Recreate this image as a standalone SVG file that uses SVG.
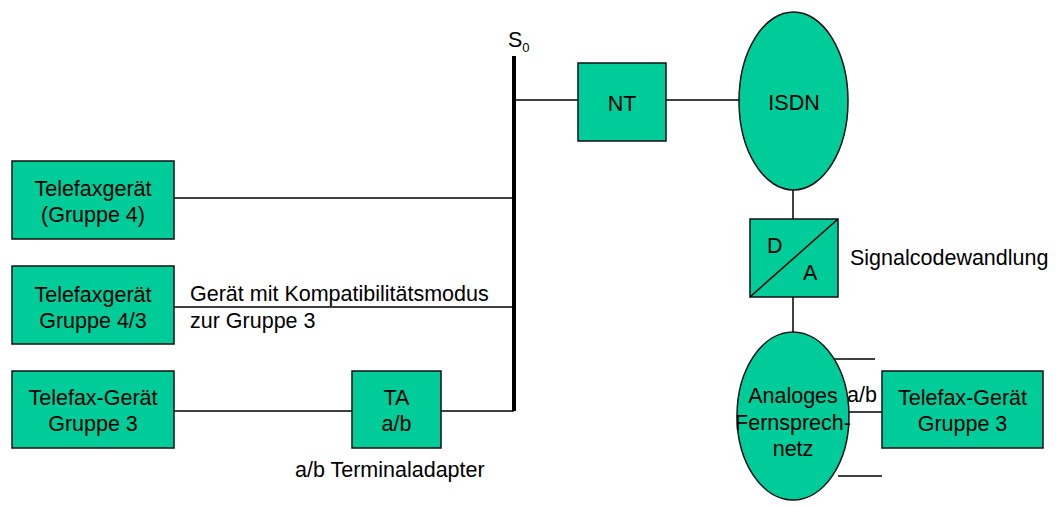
<svg xmlns="http://www.w3.org/2000/svg" width="1056" height="506" viewBox="0 0 1056 506">
<style>
.n{fill:#00CC99;stroke:#111;stroke-width:1.5}
.t{font-family:"Liberation Sans",Arial,sans-serif;font-size:21.5px;fill:#000}
.m{text-anchor:middle}
.c{stroke:#000;stroke-width:1.5;fill:none}
</style>
<rect width="1056" height="506" fill="#fff"/>
<g id="connectors">
<line class="c" x1="514" y1="100" x2="578" y2="100"/>
<line class="c" x1="666" y1="100" x2="739" y2="100"/>
<line class="c" x1="793" y1="190" x2="793" y2="219"/>
<line class="c" x1="793" y1="297" x2="793" y2="332"/>
<line class="c" x1="174" y1="198" x2="514" y2="198"/>
<line class="c" x1="174" y1="307" x2="514" y2="307"/>
<line class="c" x1="174" y1="411" x2="352" y2="411"/>
<line class="c" x1="441" y1="411" x2="514" y2="411"/>
<line class="c" x1="848" y1="412" x2="882" y2="412"/>
<line class="c" x1="830" y1="359" x2="875" y2="359"/>
<line class="c" x1="838" y1="476" x2="882" y2="476"/>
</g>
<g id="bus">
<line x1="514" y1="56" x2="514" y2="411" stroke="#000" stroke-width="4"/>
<text class="t" x="508" y="47">S<tspan font-size="13" dy="5">0</tspan></text>
</g>
<g id="nt">
<rect class="n" x="578" y="63" width="88" height="78"/>
<text class="t m" x="622" y="111">NT</text>
</g>
<g id="isdn">
<ellipse class="n" cx="793.5" cy="101" rx="54.5" ry="89"/>
<text class="t m" x="794" y="110">ISDN</text>
</g>
<g id="da">
<rect class="n" x="750" y="219" width="88" height="78"/>
<line class="c" x1="750" y1="297" x2="838" y2="219"/>
<text class="t" x="767" y="253">D</text>
<text class="t" x="803" y="280">A</text>
<text class="t" x="850" y="265">Signalcodewandlung</text>
</g>
<g id="analog">
<ellipse class="n" cx="793" cy="416" rx="56" ry="84"/>
<text class="t m" x="793" y="403">Analoges</text>
<text class="t m" x="793" y="430">Fernsprech-</text>
<text class="t m" x="793" y="456">netz</text>
<text class="t" x="847" y="402">a/b</text>
</g>
<g id="fax-right">
<rect class="n" x="882" y="371" width="161" height="77"/>
<text class="t m" x="962.5" y="405">Telefax-Gerät</text>
<text class="t m" x="962.5" y="431">Gruppe 3</text>
</g>
<g id="fax4">
<rect class="n" x="12" y="161" width="162" height="78"/>
<text class="t m" x="93" y="196">Telefaxgerät</text>
<text class="t m" x="93" y="222">(Gruppe 4)</text>
</g>
<g id="fax43">
<rect class="n" x="12" y="266" width="162" height="78"/>
<text class="t m" x="93" y="302">Telefaxgerät</text>
<text class="t m" x="93" y="328">Gruppe 4/3</text>
<text class="t" x="190" y="301">Gerät mit Kompatibilitätsmodus</text>
<text class="t" x="190" y="328">zur Gruppe 3</text>
</g>
<g id="fax3">
<rect class="n" x="12" y="371" width="162" height="77"/>
<text class="t m" x="93" y="405">Telefax-Gerät</text>
<text class="t m" x="93" y="431">Gruppe 3</text>
</g>
<g id="ta">
<rect class="n" x="352" y="371" width="89" height="77"/>
<text class="t m" x="396.5" y="405">TA</text>
<text class="t m" x="396.5" y="431">a/b</text>
<text class="t" x="295" y="477">a/b Terminaladapter</text>
</g>
</svg>
